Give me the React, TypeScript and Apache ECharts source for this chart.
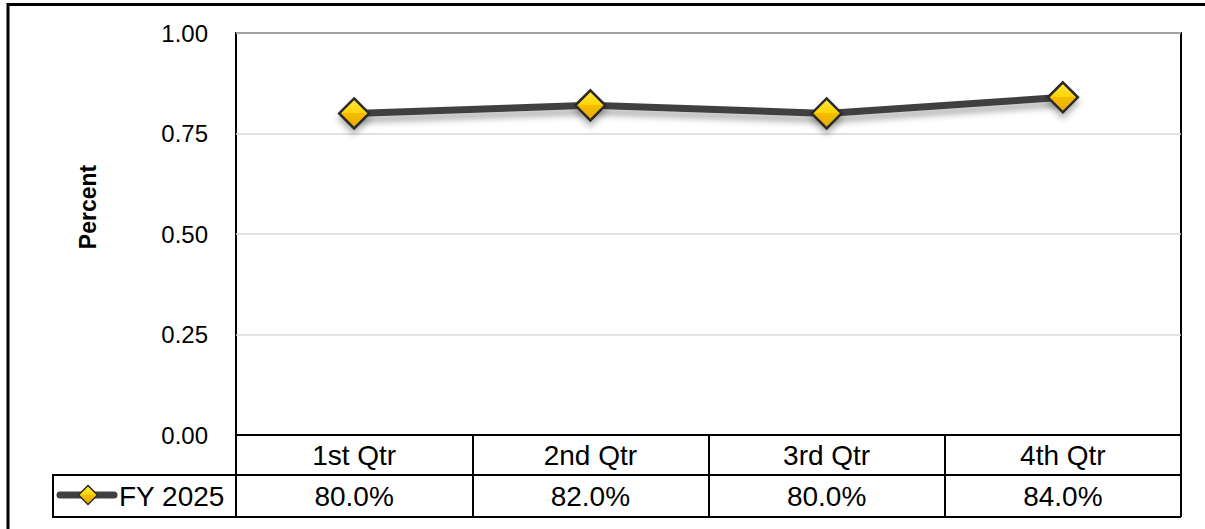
import React, { useEffect, useRef } from "react";
import * as echarts from "echarts";

const categories: string[] = ["1st Qtr", "2nd Qtr", "3rd Qtr", "4th Qtr"];
const fy2025: number[] = [0.8, 0.82, 0.8, 0.84];
const seriesName = "FY 2025";
const yAxisTitle = "Percent";
const yMin = 0;
const yMax = 1;
const yInterval = 0.25;

const FONT = "Arial, 'Liberation Sans', sans-serif";

export default function App() {
  const ref = useRef<HTMLDivElement>(null);
  useEffect(() => {
    if (!ref.current) return;
    document.documentElement.style.overflow = "hidden";
    document.body.style.overflow = "hidden";
    const chart = echarts.init(ref.current, undefined, { renderer: "svg" });
    const gridLeft = 236;
    const gridTop = 33;
    const gridWidth = 945;
    const gridHeight = 402;
    const gridBottom = gridTop + gridHeight;
    const row1 = gridBottom + 40;
    const row2 = row1 + 42;
    const rowMid = (row1 + row2) / 2;
    const makeFill = () =>
      new echarts.graphic.LinearGradient(0, 0, 0, 1, [
        { offset: 0, color: "#FFE64D" },
        { offset: 0.5, color: "#FFD400" },
        { offset: 0.5, color: "#F5BC00" },
        { offset: 1, color: "#E9A900" },
      ]);
    const lgCx = 88;
    const lgD = 9.5;
    chart.setOption({
      animation: false,
      textStyle: { fontFamily: FONT },
      grid: {
        left: gridLeft,
        top: gridTop,
        width: gridWidth,
        height: gridHeight,
        show: true,
        borderColor: "#000",
        borderWidth: 2,
        backgroundColor: "transparent",
      },
      xAxis: [
        {
          type: "category",
          data: categories,
          position: "bottom",
          boundaryGap: true,
          axisLine: { show: true, lineStyle: { color: "#000", width: 2 } },
          axisTick: {
            show: true,
            interval: 0,
            length: row2 - gridBottom,
            lineStyle: { color: "#000", width: 2 },
          },
          axisLabel: {
            interval: 0,
            fontSize: 28,
            color: "#000",
            fontFamily: FONT,
            margin: 20,
            verticalAlign: "middle",
          },
          splitLine: { show: false },
        },
        {
          type: "category",
          data: fy2025.map((v) => (v * 100).toFixed(1) + "%"),
          position: "bottom",
          boundaryGap: true,
          axisLine: { show: false },
          axisTick: { show: false },
          axisLabel: {
            interval: 0,
            fontSize: 28,
            color: "#000",
            fontFamily: FONT,
            margin: 61,
            verticalAlign: "middle",
          },
          splitLine: { show: false },
        },
      ],
      yAxis: {
        type: "value",
        min: yMin,
        max: yMax,
        interval: yInterval,
        axisLine: { show: false },
        axisTick: { show: false },
        axisLabel: {
          formatter: (v: number) => v.toFixed(2),
          fontSize: 24,
          color: "#000",
          fontFamily: FONT,
          margin: 28,
        },
        splitLine: { show: true, lineStyle: { color: "#D9D9D9", width: 1.5 } },
      },
      series: [
        {
          name: seriesName,
          type: "line",
          xAxisIndex: 0,
          data: fy2025,
          symbol: "diamond",
          symbolSize: 30,
          lineStyle: {
            color: "#404040",
            width: 7,
            shadowColor: "rgba(0,0,0,0.3)",
            shadowBlur: 6,
            shadowOffsetY: 6,
          },
          itemStyle: {
            color: makeFill(),
            borderColor: "#2b2b2b",
            borderWidth: 2.5,
            shadowColor: "rgba(0,0,0,0.3)",
            shadowBlur: 6,
            shadowOffsetY: 5,
          },
          z: 5,
        },
      ],
      graphic: [
        {
          type: "line",
          shape: { x1: 8, y1: 4.5, x2: 1205, y2: 4.5 },
          style: { stroke: "#000", lineWidth: 3 },
          silent: true,
        },
        {
          type: "line",
          shape: { x1: 8, y1: 3, x2: 8, y2: 529 },
          style: { stroke: "#000", lineWidth: 3 },
          silent: true,
        },
        {
          type: "text",
          x: 88,
          y: 207,
          rotation: Math.PI / 2,
          style: {
            text: yAxisTitle,
            font: `bold 23px ${FONT}`,
            fill: "#000",
            align: "center",
            verticalAlign: "middle",
          },
          silent: true,
        },
        {
          type: "line",
          shape: { x1: 52, y1: row1, x2: gridLeft + gridWidth, y2: row1 },
          style: { stroke: "#000", lineWidth: 2 },
          silent: true,
        },
        {
          type: "line",
          shape: { x1: 52, y1: row2, x2: gridLeft + gridWidth, y2: row2 },
          style: { stroke: "#000", lineWidth: 2 },
          silent: true,
        },
        {
          type: "line",
          shape: { x1: 53, y1: row1, x2: 53, y2: row2 },
          style: { stroke: "#000", lineWidth: 2 },
          silent: true,
        },
        {
          type: "line",
          shape: { x1: 60, y1: rowMid - 1, x2: 114, y2: rowMid - 1 },
          style: { stroke: "#404040", lineWidth: 7, lineCap: "round" },
          silent: true,
        },
        {
          type: "polygon",
          shape: {
            points: [
              [lgCx, rowMid - 1 - lgD],
              [lgCx + lgD, rowMid - 1],
              [lgCx, rowMid - 1 + lgD],
              [lgCx - lgD, rowMid - 1],
            ],
          },
          style: { fill: makeFill(), stroke: "#2b2b2b", lineWidth: 1.5 },
          silent: true,
        },
        {
          type: "text",
          x: 119,
          y: rowMid,
          style: {
            text: seriesName,
            font: `28px ${FONT}`,
            fill: "#000",
            align: "left",
            verticalAlign: "middle",
          },
          silent: true,
        },
      ],
    });
    return () => chart.dispose();
  }, []);
  return (
    <div
      ref={ref}
      style={{ position: "fixed", left: 0, top: 0, width: 1205, height: 529, background: "#fff" }}
    />
  );
}
